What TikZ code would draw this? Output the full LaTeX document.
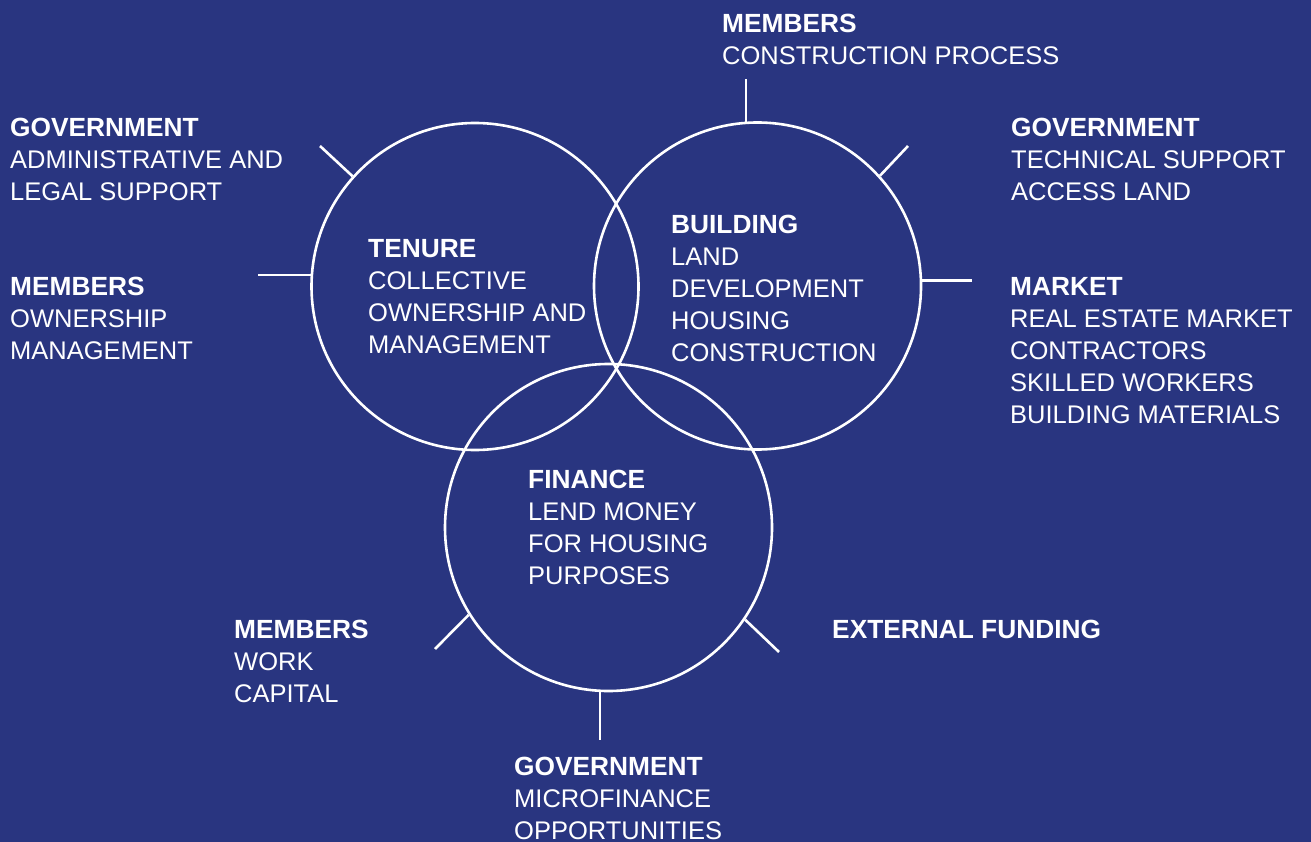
\documentclass[tikz,border=0pt]{standalone}
\usepackage{fontspec}
\setmainfont{Liberation Sans}
\definecolor{bgblue}{RGB}{41,53,128}
\newcommand{\hd}[1]{{\fontsize{26.3}{32}\selectfont\bfseries #1}}
\begin{document}
\begin{tikzpicture}[x=1pt,y=-1pt,
  ring/.style={circle,draw=white,line width=2.6pt,minimum size=327pt,inner sep=0pt},
  tick/.style={draw=white,line width=2.6pt},
  lbl/.style={text=white,anchor=base west,inner sep=0pt,align=left,
    font=\fontsize{25.5}{32}\selectfont}]
\fill[bgblue] (0,0) rectangle (1311,842);
\useasboundingbox (0,0) rectangle (1311,842);

% circles
\node[ring] (tenure) at (475,286.5) {};
\node[ring] (building) at (757.5,286) {};
\node[ring] (finance) at (608.5,527.5) {};

% free ends of the ticks
\coordinate (eTenNW) at (320,146);
\coordinate (eTenW) at (258,275);
\coordinate (eBuiN) at (744,79);
\coordinate (eBuiNE) at (908,146);
\coordinate (eBuiE) at (972,278);
\coordinate (eFinSW) at (435,649);
\coordinate (eFinSE) at (779,652);
\coordinate (eFinS) at (600,740);

\draw[tick] (tenure.138.6) -- (eTenNW);
\draw[tick] (tenure.176) -- (tenure.176 -| eTenW);
\draw[tick] (building.94.7) -- (building.94.7 |- eBuiN);
\draw[tick] (building.42.6) -- (eBuiNE);
\draw[tick] (building.2.8) -- (building.2.8 -| eBuiE);
\draw[tick] (finance.212.4) -- (eFinSW);
\draw[tick] (finance.326.2) -- (eFinSE);
\draw[tick] (finance.267) -- (finance.267 |- eFinS);

% texts inside circles (anchor = baseline of the last line)
\node[lbl] (tTenure) at (368,353) {\hd{TENURE}\\COLLECTIVE\\OWNERSHIP AND\\MANAGEMENT};
\node[lbl] (tBuilding) at (671,361) {\hd{BUILDING}\\LAND\\DEVELOPMENT\\HOUSING\\CONSTRUCTION};
\node[lbl] (tFinance) at (528,584) {\hd{FINANCE}\\LEND MONEY\\FOR HOUSING\\PURPOSES};

% outer texts
\node[lbl] (tGovAdmin) at (10,201) {\hd{GOVERNMENT}\\ADMINISTRATIVE AND\\LEGAL SUPPORT};
\node[lbl] (tMemOwn) at (10,359) {\hd{MEMBERS}\\OWNERSHIP\\MANAGEMENT};
\node[lbl] (tMemCons) at (722,65) {\hd{MEMBERS}\\CONSTRUCTION PROCESS};
\node[lbl] (tGovTech) at (1011,201) {\hd{GOVERNMENT}\\TECHNICAL SUPPORT\\ACCESS LAND};
\node[lbl] (tMarket) at (1010,423) {\hd{MARKET}\\REAL ESTATE MARKET\\CONTRACTORS\\SKILLED WORKERS\\BUILDING MATERIALS};
\node[lbl] (tMemWork) at (234,702) {\hd{MEMBERS}\\WORK\\CAPITAL};
\node[lbl] (tExt) at (832,638) {\hd{EXTERNAL FUNDING}};
\node[lbl] (tGovMicro) at (514,839) {\hd{GOVERNMENT}\\MICROFINANCE\\OPPORTUNITIES};
\end{tikzpicture}
\end{document}
